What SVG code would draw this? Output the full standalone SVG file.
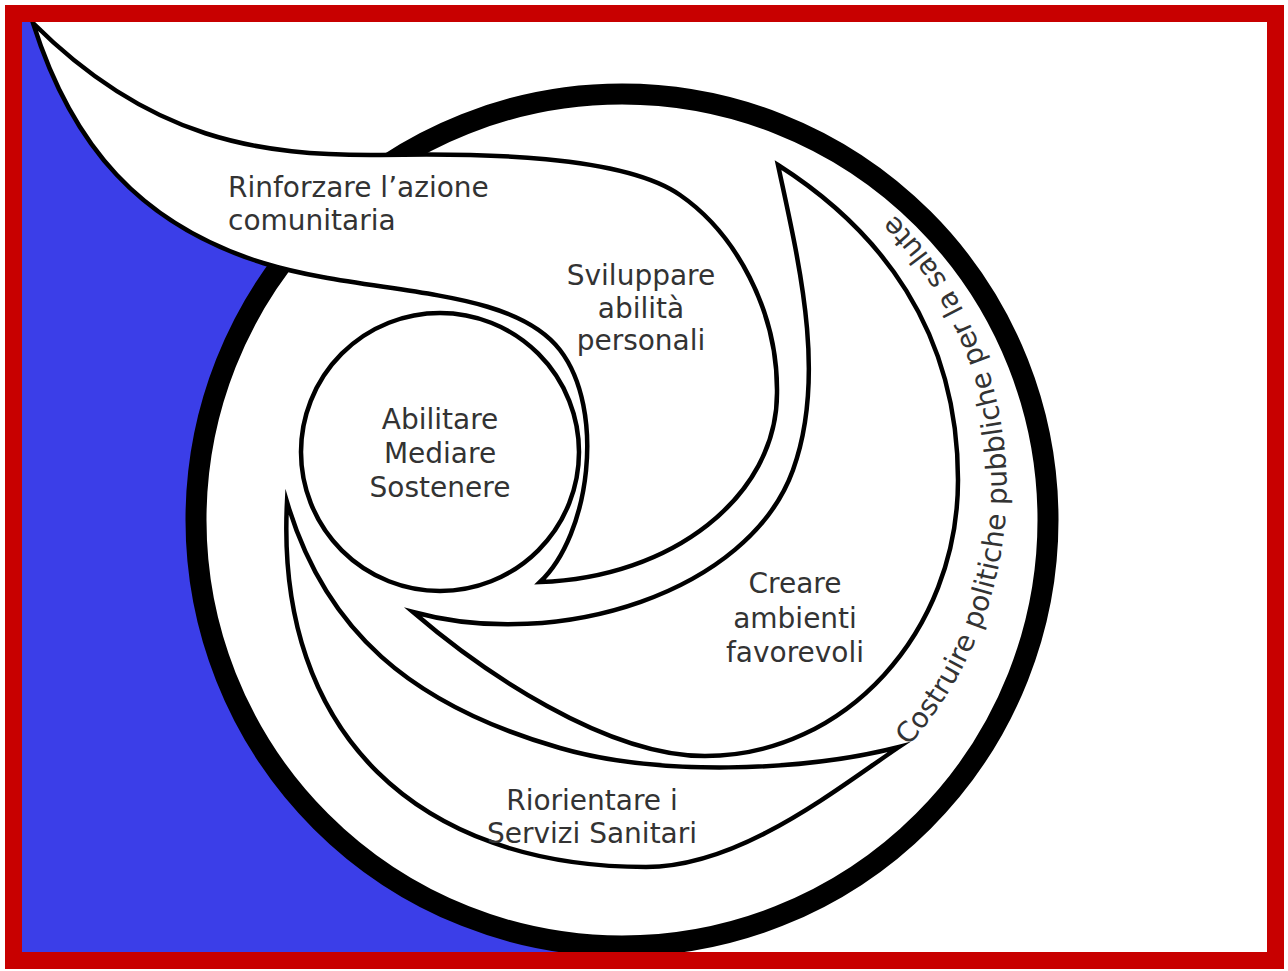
<svg xmlns="http://www.w3.org/2000/svg" width="1288" height="971" viewBox="0 0 1288 971">
<style>
.shape{fill:#fff;stroke:#000;stroke-width:4.5;stroke-linejoin:miter;stroke-miterlimit:20}
.lbl{font-family:"DejaVu Sans",Verdana,sans-serif;font-size:28px;fill:#333;text-anchor:middle}
</style>
<defs>
<path id="arcPath" d="M903,752 A388,388 0 0 0 686,106"/>
</defs>
<rect x="0" y="0" width="1288" height="971" fill="#fff"/>
<path id="blue" fill="#3b3ee8" d="M33,23 C72,146.5 141,225 263,263 L600,400 L600,962 L15,962 L15,15 L33,15 Z"/>
<g id="ring"><circle cx="622" cy="520" r="426" fill="#fff" stroke="#000" stroke-width="21"/></g>
<g id="center"><circle class="shape" cx="440" cy="452" r="139"/>
<text class="lbl" x="440" y="429">Abilitare</text>
<text class="lbl" x="440" y="463">Mediare</text>
<text class="lbl" x="440" y="497">Sostenere</text></g>
<g id="riorientare"><path class="shape" d="M287,502 C325,630 410,705 560,748 C656,776 801,772 899,747 C835,790 740,867 646,867 C420,867 275,735 287,502 Z"/>
<text class="lbl" x="592" y="810">Riorientare i</text>
<text class="lbl" x="592" y="843">Servizi Sanitari</text></g>
<g id="creare"><path class="shape" d="M778,165 C799,263 827,376 793,470 C748.8,592.2 558,652 413,612 C481,670.5 605,756 705,756 C844.7,756 958,632.4 958,480 C958,330 880,230 778,165 Z"/>
<text class="lbl" x="795" y="593">Creare</text>
<text class="lbl" x="795" y="628">ambienti</text>
<text class="lbl" x="795" y="662">favorevoli</text></g>
<g id="rinforzare"><path class="shape" d="M33,23 C150,140 260,156 380,155 C480,153 622.6,155 680,195 C735,233 778,310 777,393 C777,497 671,578 540,582 C590,535 606,410 560,350 C510,285 370,296 263,263 C141,225 72,146.5 33,23 Z"/>
<text class="lbl" x="228" y="197" style="text-anchor:start">Rinforzare l’azione</text>
<text class="lbl" x="228" y="230" style="text-anchor:start">comunitaria</text>
<text class="lbl" x="641" y="285">Sviluppare</text>
<text class="lbl" x="641" y="318">abilità</text>
<text class="lbl" x="641" y="350">personali</text></g>
<g id="costruire"><text class="lbl" style="text-anchor:start"><textPath href="#arcPath" startOffset="8">Costruire politiche pubbliche per la salute</textPath></text></g>
<rect id="frame" x="13.5" y="13.5" width="1262" height="947" fill="none" stroke="#c80000" stroke-width="17"/>
</svg>
